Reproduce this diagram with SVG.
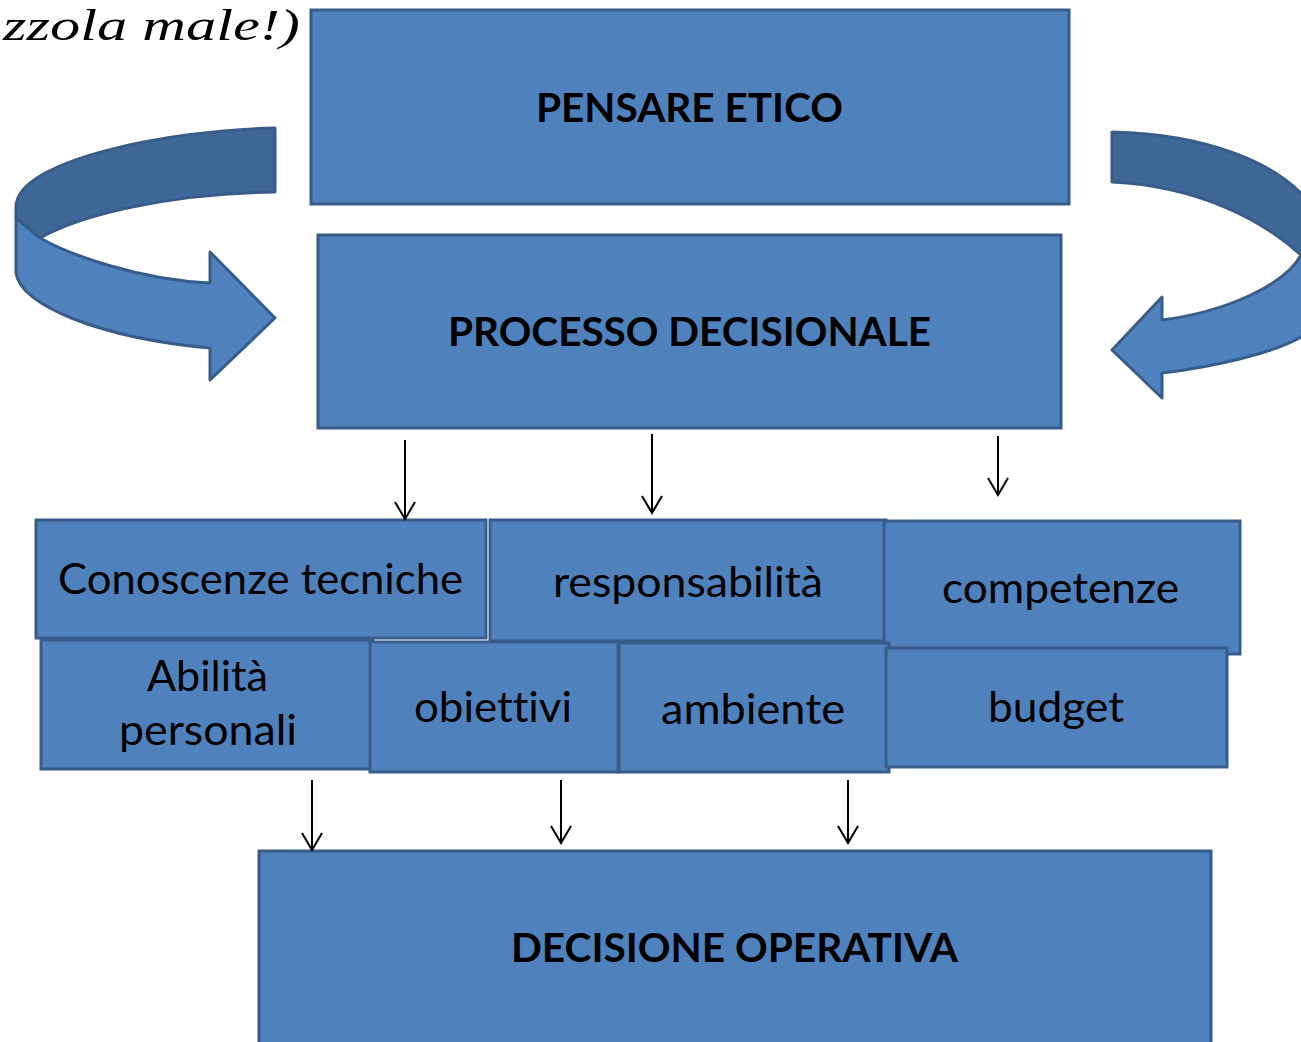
<svg xmlns="http://www.w3.org/2000/svg" width="1301" height="1042" viewBox="0 0 1301 1042">
<style>
.box{fill:#4F81BD;stroke:#385D8A;stroke-width:3}
.dark{fill:#3F6798;stroke:#385D8A;stroke-width:3;stroke-linejoin:round}
.light{fill:#4F81BD;stroke:#385D8A;stroke-width:3;stroke-linejoin:round}
.t{font-family:Lato,"Open Sans","Liberation Sans",sans-serif;font-size:42px;fill:#000;font-variant-ligatures:none}
.b{font-family:Lato,"Open Sans","Liberation Sans",sans-serif;font-size:40px;font-weight:bold;fill:#000;font-variant-ligatures:none}
.conn{stroke:#000;stroke-width:2;fill:none;marker-end:url(#ah)}
</style>
<defs>
<marker id="ah" markerUnits="userSpaceOnUse" markerWidth="24" markerHeight="24" refX="17" refY="0" orient="auto" overflow="visible">
<path d="M0,-10 L17,0 L0,10" fill="none" stroke="#000" stroke-width="2"/>
</marker>
</defs>
<rect width="1301" height="1042" fill="#fff"/>
<text x="3" y="40" font-family="Liberation Serif,serif" font-style="italic" font-size="44" textLength="297" lengthAdjust="spacingAndGlyphs">zzola male!)</text>

<g id="loop-left">
<path class="dark" d="M275,128 C170,130 16,160 16,207 L16,218 L40,238 C80,215 170,193 275,192 Z"/>
<path class="light" d="M16,218 L40,238 C70,255 140,280 210,283 L210,252 L275,318 L210,380 L210,348 C100,338 20,305 16,273 Z"/>
</g>
<g id="loop-right">
<path class="dark" d="M1112,132 C1200,134 1285,160 1318,215 L1318,262 L1301,255 C1265,222 1200,186 1112,182 Z"/>
<path class="light" d="M1301,255 C1285,285 1225,312 1162,320 L1162,297 L1112,350 L1162,398 L1162,373 C1220,366 1275,352 1301,337 L1320,320 L1320,255 Z"/>
</g>

<g id="pensare">
<rect class="box" x="311" y="10" width="758" height="194"/>
<text class="b" x="689.5" y="122" text-anchor="middle" textLength="307" lengthAdjust="spacingAndGlyphs">PENSARE ETICO</text>
</g>
<g id="processo">
<rect class="box" x="318" y="235" width="743" height="193"/>
<text class="b" x="689.5" y="346" text-anchor="middle" textLength="483" lengthAdjust="spacingAndGlyphs">PROCESSO DECISIONALE</text>
</g>
<g id="conoscenze">
<rect class="box" x="36" y="520" width="450" height="118"/>
<text class="t" x="260.5" y="594" text-anchor="middle" textLength="405" lengthAdjust="spacingAndGlyphs">Conoscenze tecniche</text>
</g>
<g id="responsabilita">
<rect class="box" x="490" y="520" width="396" height="121"/>
<text class="t" x="688" y="597" text-anchor="middle" textLength="270" lengthAdjust="spacingAndGlyphs">responsabilità</text>
</g>
<g id="competenze">
<rect class="box" x="884" y="521" width="356" height="133"/>
<text class="t" x="1060.5" y="603" text-anchor="middle" textLength="237" lengthAdjust="spacingAndGlyphs">competenze</text>
</g>
<g id="abilita">
<rect class="box" x="41" y="640" width="332" height="129"/>
<text class="t" x="207.5" y="691" text-anchor="middle" textLength="121" lengthAdjust="spacingAndGlyphs">Abilità</text>
<text class="t" x="208" y="745" text-anchor="middle" textLength="178" lengthAdjust="spacingAndGlyphs">personali</text>
</g>
<g id="obiettivi">
<rect class="box" x="370" y="642" width="248" height="130"/>
<text class="t" x="493" y="722" text-anchor="middle" textLength="158" lengthAdjust="spacingAndGlyphs">obiettivi</text>
</g>
<g id="ambiente">
<rect class="box" x="619" y="643" width="270" height="129"/>
<text class="t" x="753" y="724" text-anchor="middle" textLength="184" lengthAdjust="spacingAndGlyphs">ambiente</text>
</g>
<g id="budget">
<rect class="box" x="886" y="648" width="341" height="119"/>
<text class="t" x="1056" y="722" text-anchor="middle" textLength="136" lengthAdjust="spacingAndGlyphs">budget</text>
</g>
<g id="decisione">
<rect class="box" x="259" y="851" width="952" height="200"/>
<text class="b" x="734.5" y="962" text-anchor="middle" textLength="447" lengthAdjust="spacingAndGlyphs">DECISIONE OPERATIVA</text>
</g>

<g id="connectors">
<line class="conn" x1="405" y1="440" x2="405" y2="519"/>
<line class="conn" x1="652" y1="434" x2="652" y2="513"/>
<line class="conn" x1="998" y1="436" x2="998" y2="495"/>
<line class="conn" x1="312" y1="780" x2="312" y2="850"/>
<line class="conn" x1="561" y1="780" x2="561" y2="843"/>
<line class="conn" x1="848" y1="780" x2="848" y2="843"/>
</g>
</svg>
